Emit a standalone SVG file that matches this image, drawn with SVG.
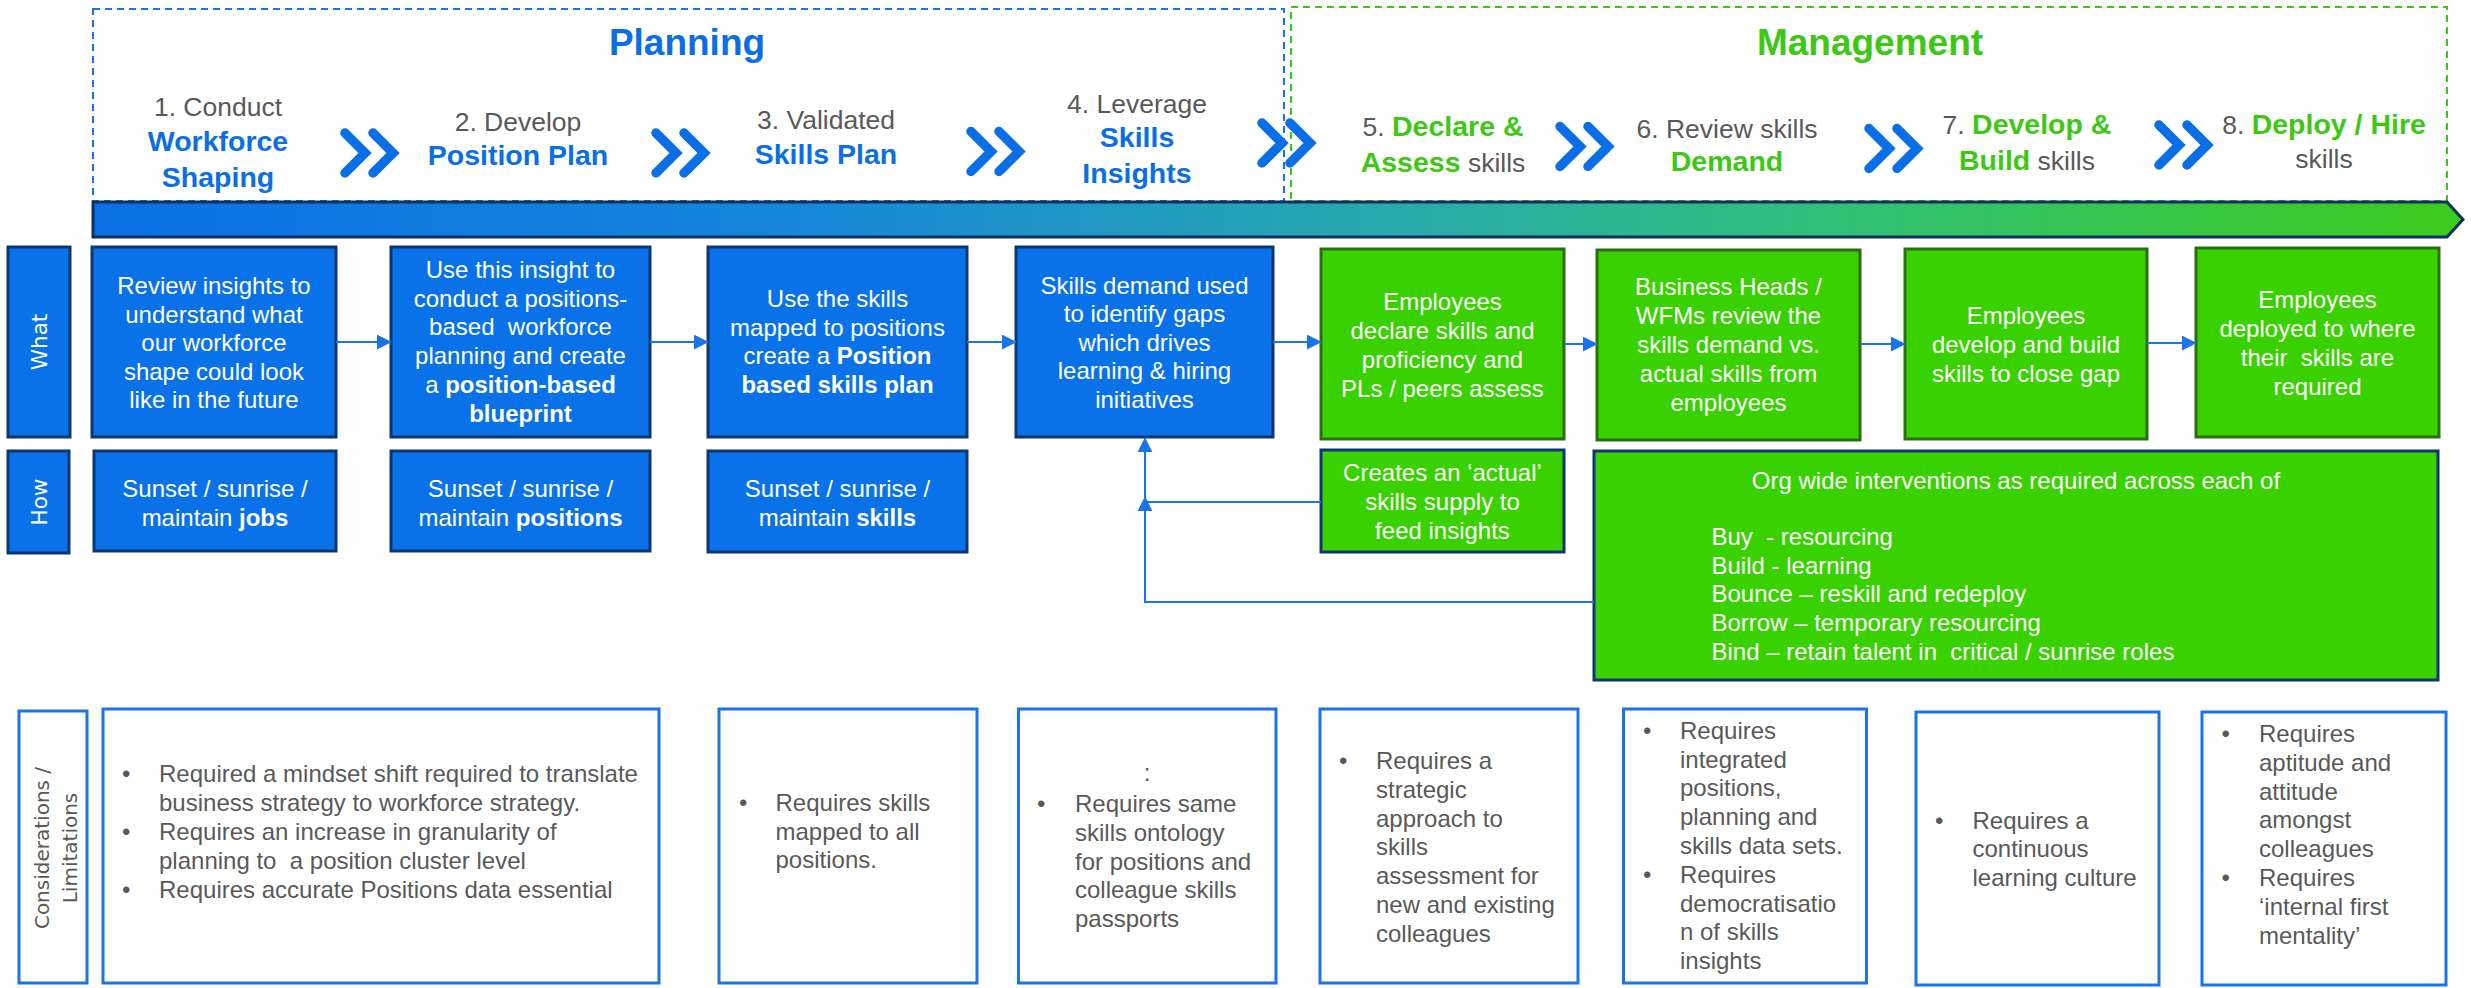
<svg xmlns="http://www.w3.org/2000/svg" width="2471" height="988" viewBox="0 0 2471 988">
  <defs>
    <linearGradient id="barGrad" x1="0" y1="0" x2="1" y2="0">
      <stop offset="0" stop-color="#0A70E6"/>
      <stop offset="0.3" stop-color="#1787DA"/>
      <stop offset="0.54" stop-color="#29A8AE"/>
      <stop offset="0.72" stop-color="#31BE7C"/>
      <stop offset="1" stop-color="#3CCC1C"/>
    </linearGradient>
    <marker id="arrow" viewBox="0 0 10 10" refX="9.5" refY="5" markerWidth="15" markerHeight="15" markerUnits="userSpaceOnUse" orient="auto">
      <path d="M0,0 L10,5 L0,10 Z" fill="#1A73E8"/>
    </marker>
    <g id="chev">
      <path d="M4,-20 L24,0 L4,20 M32,-20 L52,0 L32,20" fill="none" stroke="#0A6FE6" stroke-width="9.5" stroke-linecap="round" stroke-linejoin="miter"/>
    </g>
  </defs>
  <style>
    text { font-family: "Liberation Sans", Arial, sans-serif; }
    .title { font-size: 37px; font-weight: bold; text-anchor: middle; }
    .step { font-size: 26.5px; fill: #595959; text-anchor: middle; }
    .b { font-weight: bold; font-size: 28.5px; }
    .bl { fill: #0B6FE3; }
    .gr { fill: #3CC814; }
    .blueBox { fill: #0A72E8; stroke: #0E3670; stroke-width: 3; }
    .greenBox { fill: #3AD100; stroke: #2A7012; stroke-width: 3; }
    .greenNavy { fill: #3AD100; stroke: #0E3670; stroke-width: 3; }
    .lbl { fill: #0A72E8; stroke: #0E3670; stroke-width: 3; }
    .bt { font-size: 24px; fill: #FFFFFF; text-anchor: middle; }
    .btl { font-size: 24px; fill: #FFFFFF; }
    .bold { font-weight: bold; }
    .side { font-family: "DejaVu Sans", Verdana, sans-serif; font-size: 21.5px; fill: #FFFFFF; text-anchor: middle; }
    .cbox { fill: #FFFFFF; stroke: #1A73E8; stroke-width: 3; }
    .ct { font-size: 24px; fill: #595959; }
    .cside { font-family: "DejaVu Sans", Verdana, sans-serif; font-size: 20px; fill: #595959; text-anchor: middle; }
    .conn { fill: none; stroke: #1A73E8; stroke-width: 2; }
  </style>

  <!-- phase frames -->
  <g id="phase-planning">
    <rect x="93" y="9" width="1191" height="192" fill="none" stroke="#1A73E8" stroke-width="2" stroke-dasharray="7,5"/>
    <text class="title bl" x="687" y="55">Planning</text>
  </g>
  <g id="phase-management">
    <rect x="1291" y="7" width="1156" height="194" fill="none" stroke="#3CC814" stroke-width="2" stroke-dasharray="7,5"/>
    <text class="title gr" x="1870" y="55">Management</text>
  </g>

  <!-- step headings -->
  <g id="step1">
    <text class="step" x="218" y="116">1. Conduct</text>
    <text class="step b bl" x="218" y="151">Workforce</text>
    <text class="step b bl" x="218" y="187">Shaping</text>
  </g>
  <g id="step2">
    <text class="step" x="518" y="131">2. Develop</text>
    <text class="step b bl" x="518" y="165">Position Plan</text>
  </g>
  <g id="step3">
    <text class="step" x="826" y="129">3. Validated</text>
    <text class="step b bl" x="826" y="164">Skills Plan</text>
  </g>
  <g id="step4">
    <text class="step" x="1137" y="113">4. Leverage</text>
    <text class="step b bl" x="1137" y="147">Skills</text>
    <text class="step b bl" x="1137" y="183">Insights</text>
  </g>
  <g id="step5">
    <text class="step" x="1443" y="136">5. <tspan class="b gr">Declare &amp;</tspan></text>
    <text class="step" x="1443" y="172"><tspan class="b gr">Assess</tspan> skills</text>
  </g>
  <g id="step6">
    <text class="step" x="1727" y="138">6. Review skills</text>
    <text class="step b gr" x="1727" y="171">Demand</text>
  </g>
  <g id="step7">
    <text class="step" x="2027" y="134">7. <tspan class="b gr">Develop &amp;</tspan></text>
    <text class="step" x="2027" y="170"><tspan class="b gr">Build</tspan> skills</text>
  </g>
  <g id="step8">
    <text class="step" x="2324" y="134">8. <tspan class="b gr">Deploy / Hire</tspan></text>
    <text class="step" x="2324" y="168">skills</text>
  </g>

  <!-- chevrons between steps -->
  <g id="chevrons">
    <use href="#chev" transform="translate(341,153)"/>
    <use href="#chev" transform="translate(652,153)"/>
    <use href="#chev" transform="translate(967,151.5)"/>
    <use href="#chev" transform="translate(1258,143)"/>
    <use href="#chev" transform="translate(1556,146.5)"/>
    <use href="#chev" transform="translate(1865,148.5)"/>
    <use href="#chev" transform="translate(2155,145)"/>
  </g>

  <!-- timeline bar -->
  <g id="timeline">
    <path d="M93,202 L2447,202 L2463,219.5 L2447,237 L93,237 Z" fill="url(#barGrad)" stroke="#10305E" stroke-width="3" stroke-linejoin="miter"/>
  </g>

  <!-- row labels -->
  <g id="label-what">
    <rect class="lbl" x="8" y="247" width="62" height="190"/>
    <text class="side" transform="translate(47,342) rotate(-90)">What</text>
  </g>
  <g id="label-how">
    <rect class="lbl" x="8" y="451" width="61" height="102"/>
    <text class="side" transform="translate(47,502) rotate(-90)">How</text>
  </g>
  <g id="label-considerations">
    <rect class="cbox" x="19" y="711" width="68" height="272"/>
    <text class="cside" transform="translate(49,848) rotate(-90)">Considerations /</text>
    <text class="cside" transform="translate(77,848) rotate(-90)">Limitations</text>
  </g>

  <!-- What row -->
  <g id="what1">
    <rect class="blueBox" x="92" y="247" width="244" height="190"/>
    <text class="bt" x="214" y="294">Review insights to</text>
    <text class="bt" x="214" y="322.5">understand what</text>
    <text class="bt" x="214" y="351">our workforce</text>
    <text class="bt" x="214" y="379.5">shape could look</text>
    <text class="bt" x="214" y="408">like in the future</text>
  </g>
  <g id="what2">
    <rect class="blueBox" x="391" y="247" width="259" height="190"/>
    <text class="bt" x="520.5" y="278">Use this insight to</text>
    <text class="bt" x="520.5" y="306.7">conduct a positions-</text>
    <text class="bt" x="520.5" y="335.4" xml:space="preserve">based  workforce</text>
    <text class="bt" x="520.5" y="364.1">planning and create</text>
    <text class="bt" x="520.5" y="392.8">a <tspan class="bold">position-based</tspan></text>
    <text class="bt bold" x="520.5" y="421.5">blueprint</text>
  </g>
  <g id="what3">
    <rect class="blueBox" x="708" y="247" width="259" height="190"/>
    <text class="bt" x="837.5" y="307">Use the skills</text>
    <text class="bt" x="837.5" y="335.7">mapped to positions</text>
    <text class="bt" x="837.5" y="364.4">create a <tspan class="bold">Position</tspan></text>
    <text class="bt bold" x="837.5" y="393.1">based skills plan</text>
  </g>
  <g id="what4">
    <rect class="blueBox" x="1016" y="247" width="257" height="190"/>
    <text class="bt" x="1144.5" y="293.5">Skills demand used</text>
    <text class="bt" x="1144.5" y="322">to identify gaps</text>
    <text class="bt" x="1144.5" y="350.5">which drives</text>
    <text class="bt" x="1144.5" y="379">learning &amp; hiring</text>
    <text class="bt" x="1144.5" y="407.5">initiatives</text>
  </g>
  <g id="what5">
    <rect class="greenBox" x="1321" y="249" width="243" height="190"/>
    <text class="bt" x="1442.5" y="309.5">Employees</text>
    <text class="bt" x="1442.5" y="338.6">declare skills and</text>
    <text class="bt" x="1442.5" y="367.7">proficiency and</text>
    <text class="bt" x="1442.5" y="396.8">PLs / peers assess</text>
  </g>
  <g id="what6">
    <rect class="greenBox" x="1597" y="250" width="263" height="190"/>
    <text class="bt" x="1728.5" y="295">Business Heads /</text>
    <text class="bt" x="1728.5" y="324">WFMs review the</text>
    <text class="bt" x="1728.5" y="353">skills demand vs.</text>
    <text class="bt" x="1728.5" y="382">actual skills from</text>
    <text class="bt" x="1728.5" y="411">employees</text>
  </g>
  <g id="what7">
    <rect class="greenBox" x="1905" y="249" width="242" height="190"/>
    <text class="bt" x="2026" y="324">Employees</text>
    <text class="bt" x="2026" y="353">develop and build</text>
    <text class="bt" x="2026" y="382">skills to close gap</text>
  </g>
  <g id="what8">
    <rect class="greenBox" x="2196" y="248" width="243" height="189"/>
    <text class="bt" x="2317.5" y="308">Employees</text>
    <text class="bt" x="2317.5" y="337">deployed to where</text>
    <text class="bt" x="2317.5" y="366" xml:space="preserve">their  skills are</text>
    <text class="bt" x="2317.5" y="395">required</text>
  </g>

  <!-- How row -->
  <g id="how1">
    <rect class="blueBox" x="94" y="451" width="242" height="100"/>
    <text class="bt" x="215" y="496.5">Sunset / sunrise /</text>
    <text class="bt" x="215" y="525.8">maintain <tspan class="bold">jobs</tspan></text>
  </g>
  <g id="how2">
    <rect class="blueBox" x="391" y="451" width="259" height="100"/>
    <text class="bt" x="520.5" y="496.5">Sunset / sunrise /</text>
    <text class="bt" x="520.5" y="525.8">maintain <tspan class="bold">positions</tspan></text>
  </g>
  <g id="how3">
    <rect class="blueBox" x="708" y="451" width="259" height="101"/>
    <text class="bt" x="837.5" y="496.5">Sunset / sunrise /</text>
    <text class="bt" x="837.5" y="525.8">maintain <tspan class="bold">skills</tspan></text>
  </g>
  <g id="how5">
    <rect class="greenNavy" x="1321" y="450" width="243" height="102"/>
    <text class="bt" x="1442.5" y="481">Creates an ‘actual’</text>
    <text class="bt" x="1442.5" y="510">skills supply to</text>
    <text class="bt" x="1442.5" y="539">feed insights</text>
  </g>
  <g id="how-interventions">
    <rect class="greenNavy" x="1594" y="451" width="844" height="229"/>
    <text class="bt" x="2016" y="489">Org wide interventions as required across each of</text>
    <text class="btl" x="1711.5" y="545" xml:space="preserve">Buy  - resourcing</text>
    <text class="btl" x="1711.5" y="573.7">Build - learning</text>
    <text class="btl" x="1711.5" y="602.4">Bounce – reskill and redeploy</text>
    <text class="btl" x="1711.5" y="631.1">Borrow – temporary resourcing</text>
    <text class="btl" x="1711.5" y="659.8" xml:space="preserve">Bind – retain talent in  critical / sunrise roles</text>
  </g>

  <!-- connectors -->
  <g id="connectors">
    <line class="conn" x1="336" y1="342" x2="391" y2="342" marker-end="url(#arrow)"/>
    <line class="conn" x1="650" y1="342" x2="708" y2="342" marker-end="url(#arrow)"/>
    <line class="conn" x1="967" y1="342" x2="1016" y2="342" marker-end="url(#arrow)"/>
    <line class="conn" x1="1273" y1="342" x2="1321" y2="342" marker-end="url(#arrow)"/>
    <line class="conn" x1="1564" y1="344" x2="1597" y2="344" marker-end="url(#arrow)"/>
    <line class="conn" x1="1860" y1="344" x2="1905" y2="344" marker-end="url(#arrow)"/>
    <line class="conn" x1="2147" y1="343" x2="2196" y2="343" marker-end="url(#arrow)"/>
    <path class="conn" d="M1321,502 L1145,502 L1145,438" marker-end="url(#arrow)"/>
    <path class="conn" d="M1594,602 L1145,602 L1145,497" marker-end="url(#arrow)"/>
  </g>

  <!-- Considerations / Limitations row -->
  <g id="cons1">
    <rect class="cbox" x="103" y="709" width="556" height="274"/>
    <text class="ct" x="122" y="782.4">•</text>
    <text class="ct" x="159" y="782.4">Required a mindset shift required to translate</text>
    <text class="ct" x="159" y="811.2">business strategy to workforce strategy.</text>
    <text class="ct" x="122" y="840">•</text>
    <text class="ct" x="159" y="840">Requires an increase in granularity of</text>
    <text class="ct" x="159" y="868.8" xml:space="preserve">planning to  a position cluster level</text>
    <text class="ct" x="122" y="897.6">•</text>
    <text class="ct" x="159" y="897.6">Requires accurate Positions data essential</text>
  </g>
  <g id="cons2">
    <rect class="cbox" x="719" y="709" width="258" height="274"/>
    <text class="ct" x="739" y="811">•</text>
    <text class="ct" x="775.5" y="811">Requires skills</text>
    <text class="ct" x="775.5" y="839.7">mapped to all</text>
    <text class="ct" x="775.5" y="868.4">positions.</text>
  </g>
  <g id="cons3">
    <rect class="cbox" x="1018.5" y="709" width="257.5" height="274"/>
    <text class="ct" x="1147" y="781" text-anchor="middle">:</text>
    <text class="ct" x="1037" y="811.7">•</text>
    <text class="ct" x="1075" y="811.7">Requires same</text>
    <text class="ct" x="1075" y="840.6">skills ontology</text>
    <text class="ct" x="1075" y="869.5">for positions and</text>
    <text class="ct" x="1075" y="898.4">colleague skills</text>
    <text class="ct" x="1075" y="927.3">passports</text>
  </g>
  <g id="cons4">
    <rect class="cbox" x="1320" y="709" width="258" height="274"/>
    <text class="ct" x="1339" y="769">•</text>
    <text class="ct" x="1376" y="769">Requires a</text>
    <text class="ct" x="1376" y="797.8">strategic</text>
    <text class="ct" x="1376" y="826.6">approach to</text>
    <text class="ct" x="1376" y="855.4">skills</text>
    <text class="ct" x="1376" y="884.2">assessment for</text>
    <text class="ct" x="1376" y="913">new and existing</text>
    <text class="ct" x="1376" y="941.8">colleagues</text>
  </g>
  <g id="cons5">
    <rect class="cbox" x="1623.5" y="709" width="243" height="274"/>
    <text class="ct" x="1643" y="738.7">•</text>
    <text class="ct" x="1680" y="738.7">Requires</text>
    <text class="ct" x="1680" y="767.5">integrated</text>
    <text class="ct" x="1680" y="796.3">positions,</text>
    <text class="ct" x="1680" y="825.1">planning and</text>
    <text class="ct" x="1680" y="853.9">skills data sets.</text>
    <text class="ct" x="1643" y="882.7">•</text>
    <text class="ct" x="1680" y="882.7">Requires</text>
    <text class="ct" x="1680" y="911.5">democratisatio</text>
    <text class="ct" x="1680" y="940.3">n of skills</text>
    <text class="ct" x="1680" y="969.1">insights</text>
  </g>
  <g id="cons6">
    <rect class="cbox" x="1916" y="712" width="243" height="273"/>
    <text class="ct" x="1935" y="828.5">•</text>
    <text class="ct" x="1972.5" y="828.5">Requires a</text>
    <text class="ct" x="1972.5" y="857.3">continuous</text>
    <text class="ct" x="1972.5" y="886.1">learning culture</text>
  </g>
  <g id="cons7">
    <rect class="cbox" x="2202" y="712" width="244" height="273"/>
    <text class="ct" x="2221.5" y="742">•</text>
    <text class="ct" x="2259" y="742">Requires</text>
    <text class="ct" x="2259" y="770.8">aptitude and</text>
    <text class="ct" x="2259" y="799.6">attitude</text>
    <text class="ct" x="2259" y="828.4">amongst</text>
    <text class="ct" x="2259" y="857.2">colleagues</text>
    <text class="ct" x="2221.5" y="886">•</text>
    <text class="ct" x="2259" y="886">Requires</text>
    <text class="ct" x="2259" y="914.8">‘internal first</text>
    <text class="ct" x="2259" y="943.6">mentality’</text>
  </g>
</svg>
